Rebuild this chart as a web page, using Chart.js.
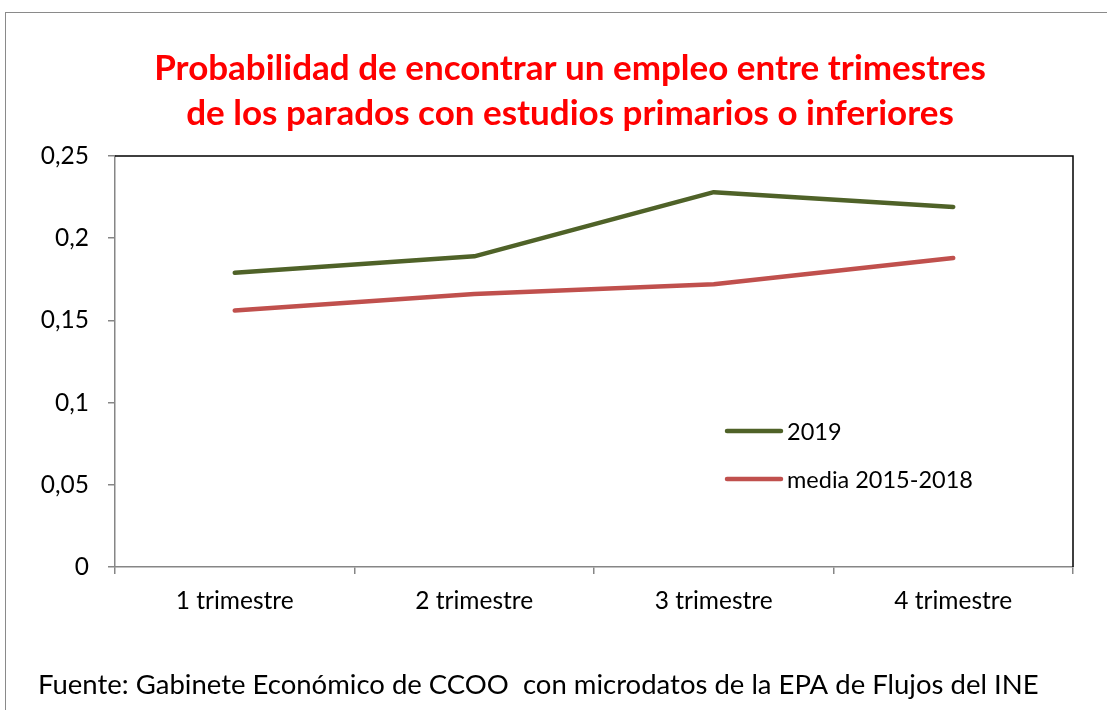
<!DOCTYPE html>
<html>
<head>
<meta charset="utf-8">
<script src="https://cdn.jsdelivr.net/npm/chart.js@4/dist/chart.umd.min.js"></script>
<style>
  html, body { margin: 0; padding: 0; background: #fff; }
  #wrap { position: relative; width: 1107px; height: 710px; overflow: hidden; }
  #frame { position: absolute; left: 5px; top: 12px; width: 1110px; height: 720px; border: 1.5px solid #8a8a8a; box-sizing: border-box; }
  canvas { position: absolute; left: 0; top: 0; }
</style>
</head>
<body>
<div id="wrap">
  <div id="frame"></div>
  <canvas id="chart" width="1107" height="710"></canvas>
</div>
<script>
const categories = ['1 trimestre', '2 trimestre', '3 trimestre', '4 trimestre'];
const serie2019 = [0.179, 0.189, 0.228, 0.219];
const serieMedia = [0.156, 0.166, 0.172, 0.188];
const yTicks = [0, 0.05, 0.1, 0.15, 0.2, 0.25];

const FONT = 'Lato, "Open Sans", sans-serif';

// black border on top and right side of the plot area, like Excel
const plotBorder = {
    id: 'plotBorder',
    afterDraw(chart) {
        const { ctx, chartArea: a } = chart;
        ctx.save();
        ctx.strokeStyle = '#000';
        ctx.lineWidth = 1.5;
        ctx.beginPath();
        ctx.moveTo(a.left, a.top);
        ctx.lineTo(a.right, a.top);
        ctx.lineTo(a.right, a.bottom);
        ctx.stroke();
        ctx.restore();
    },
};

// legend drawn inside the plot area, lower right
const innerLegend = {
    id: 'innerLegend',
    afterDraw(chart) {
        const { ctx, chartArea: a } = chart;
        const x0 = a.left + 612;
        const y0 = a.top + 275;
        ctx.save();
        ctx.font = '23.5px ' + FONT;
        ctx.textBaseline = 'middle';
        chart.data.datasets.forEach((ds, i) => {
            const y = y0 + i * 48;
            ctx.strokeStyle = ds.borderColor;
            ctx.lineWidth = 4.5;
            ctx.lineCap = 'round';
            ctx.beginPath();
            ctx.moveTo(x0, y);
            ctx.lineTo(x0 + 54, y);
            ctx.stroke();
            ctx.fillStyle = '#000';
            ctx.fillText(ds.label, x0 + 60, y + 1);
        });
        ctx.restore();
    },
};

new Chart(document.getElementById('chart'), {
    type: 'line',
    data: {
        labels: categories,
        datasets: [
            { label: '2019', data: serie2019, borderColor: '#4F6228', backgroundColor: '#4F6228' },
            { label: 'media 2015-2018', data: serieMedia, borderColor: '#C0504D', backgroundColor: '#C0504D' },
        ],
    },
    options: {
        responsive: false,
        animation: false,
        layout: { padding: { left: 38, right: 5, top: 0, bottom: 0 } },
        elements: {
            point: { radius: 0, hoverRadius: 0 },
            line: { borderWidth: 4.5, tension: 0, borderCapStyle: 'round', borderJoinStyle: 'round' },
        },
        plugins: {
            legend: { display: false },
            tooltip: { enabled: false },
            title: {
                display: true,
                text: ['Probabilidad de encontrar un empleo entre trimestres', 'de los parados con estudios primarios o inferiores'],
                color: '#FF0000',
                font: { family: FONT, size: 35, weight: 'bold', lineHeight: 1.286 },
                padding: { top: 46, bottom: 20 },
            },
            subtitle: {
                display: true,
                position: 'bottom',
                align: 'start',
                text: 'Fuente: Gabinete Económico de CCOO  con microdatos de la EPA de Flujos del INE',
                color: '#000',
                font: { family: FONT, size: 27.5, lineHeight: 1.2 },
                padding: { top: 41.5, bottom: 8.5 },
            },
        },
        scales: {
            x: {
                offset: true,
                grid: { offset: true, drawOnChartArea: false, tickLength: 7, color: '#868686', lineWidth: 1.5 },
                border: { color: '#868686', width: 1.5 },
                ticks: { color: '#000', font: { family: FONT, size: 24.5 }, padding: 12 },
                afterFit: (s) => { s.height = 60; },
            },
            y: {
                min: 0,
                max: 0.25,
                afterBuildTicks: (s) => { s.ticks = yTicks.map((v) => ({ value: v })); },
                grid: { drawOnChartArea: false, tickLength: 7, color: '#868686', lineWidth: 1.5 },
                border: { color: '#868686', width: 1.5 },
                ticks: {
                    color: '#000',
                    font: { family: FONT, size: 24.5 },
                    padding: 19,
                    callback: (v) => String(Number(v.toFixed(2))).replace('.', ','),
                },
                afterFit: (s) => { s.width = 77; },
            },
            yRight: {
                position: 'right',
                display: true,
                grid: { display: false },
                border: { display: false },
                ticks: { display: false },
                afterFit: (s) => { s.width = 29; },
            },
        },
    },
    plugins: [plotBorder, innerLegend],
});
</script>
</body>
</html>
